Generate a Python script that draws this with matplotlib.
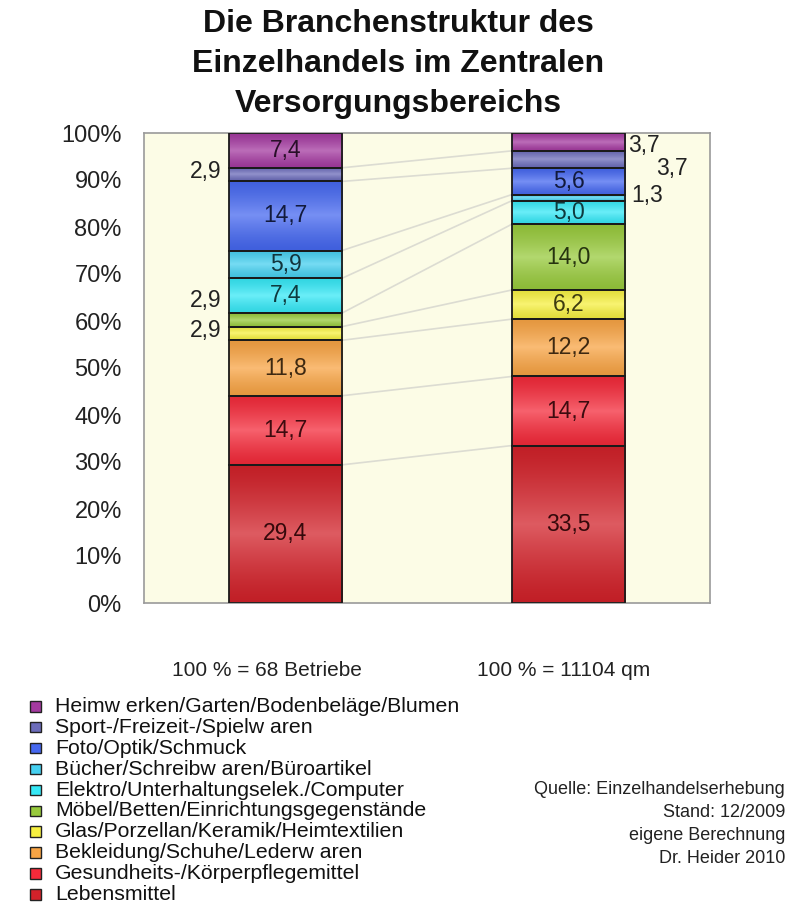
import numpy as np
import matplotlib
matplotlib.use("Agg")
import matplotlib.pyplot as plt
from matplotlib.patches import Rectangle
from matplotlib.colors import to_rgb

# Branches, stacked bottom to top
categories = [
    "Lebensmittel",
    "Gesundheits-/Körperpflegemittel",
    "Bekleidung/Schuhe/Lederw aren",
    "Glas/Porzellan/Keramik/Heimtextilien",
    "Möbel/Betten/Einrichtungsgegenstände",
    "Elektro/Unterhaltungselek./Computer",
    "Bücher/Schreibw aren/Büroartikel",
    "Foto/Optik/Schmuck",
    "Sport-/Freizeit-/Spielw aren",
    "Heimw erken/Garten/Bodenbeläge/Blumen",
]
betriebe = [29.4, 14.7, 11.8, 2.9, 2.9, 7.4, 5.9, 14.7, 2.9, 7.4]
flaeche = [33.5, 14.7, 12.2, 6.2, 14.0, 5.0, 1.3, 5.6, 3.7, 3.7]
columns = ["100 % = 68 Betriebe", "100 % = 11104 qm"]
yticks = [0, 10, 20, 30, 40, 50, 60, 70, 80, 90, 100]

colors = ["#d2222a", "#f42a3a", "#f8a444", "#f6f040", "#98ca3c",
          "#36e8f6", "#46d0f0", "#4668f0", "#6c6cba", "#a43aa0"]

plt.rcParams["font.family"] = ["Liberation Sans", "DejaVu Sans"]

fig = plt.figure(figsize=(7.95, 9.06), dpi=100)
W, H = 795, 906
ax = fig.add_axes([144 / W, 1 - 603 / H, (710 - 144) / W, (603 - 133) / H])
ax.set_facecolor("#fcfce6")
for s in ax.spines.values():
    s.set_color("#9a9a9a")
    s.set_linewidth(1.2)

ax.set_xlim(-0.5, 1.5)
ax.set_ylim(0, 100)
ax.set_xticks([])
ax.set_yticks(yticks)
ax.set_yticklabels([f"{t}%" for t in yticks], fontsize=17, color="#222222")
ax.tick_params(axis="y", length=0, pad=16)

width = 0.4
xpos = [0, 1]
series = [betriebe, flaeche]


def gradient_fill(patch, base):
    x0, y0 = patch.get_x(), patch.get_y()
    w, h = patch.get_width(), patch.get_height()
    base = np.array(to_rgb(base))
    t = np.linspace(0, 1, 64)
    hump = 1 - np.abs(2 * t - 1)
    light = base + (1 - base) * 0.26
    dark = base * 0.92
    col = dark[None, :] + (light - dark)[None, :] * hump[:, None] ** 1.3
    img = np.repeat(col[:, None, :], 4, axis=1)
    ax.imshow(img, extent=(x0, x0 + w, y0, y0 + h), origin="lower",
              aspect="auto", zorder=2, interpolation="bilinear")


bar_sets = []
for xi, vals in zip(xpos, series):
    bottoms = np.concatenate([[0], np.cumsum(vals)[:-1]])
    bars = ax.bar([xi] * len(vals), vals, width=width, bottom=bottoms,
                  facecolor="none", edgecolor="#1a1a1a", linewidth=1.3,
                  zorder=3)
    for p, c in zip(bars.patches, colors):
        gradient_fill(p, c)
    bar_sets.append(bars)

# Connecting lines between segment tops of both columns
left_tops = np.cumsum(betriebe)[:-1]
right_tops = np.cumsum(flaeche)[:-1]
for yl, yr in zip(left_tops, right_tops):
    ax.plot([xpos[0] + width / 2, xpos[1] - width / 2], [yl, yr],
            color="#dcdcd2", linewidth=1.2, zorder=1)

ax.set_aspect("auto")

# Value labels; thin segments get their label beside the column
outside_left = {3: 0.7, 4: 4.2, 8: 0.7}
outside_right = {9: (0.012, -0.7), 8: (0.11, -1.8), 6: (0.02, 0.35)}
for k, (xi, vals, bars) in enumerate(zip(xpos, series, bar_sets)):
    for i, (p, v) in enumerate(zip(bars.patches, vals)):
        yc = p.get_y() + p.get_height() / 2
        txt = f"{v:.1f}".replace(".", ",")
        if k == 0 and i in outside_left:
            ax.text(xi - width / 2 - 0.025, yc + outside_left[i], txt,
                    ha="right", va="center", fontsize=16.5, color="#222222",
                    zorder=4)
        elif k == 1 and i in outside_right:
            dx, dy = outside_right[i]
            ax.text(xi + width / 2 + dx, yc + dy, txt,
                    ha="left", va="center", fontsize=16.5, color="#222222",
                    zorder=4)
        else:
            tc = tuple(np.array(to_rgb(colors[i])) * 0.25)
            ax.text(xi, yc, txt, ha="center", va="center", fontsize=16.5,
                    color=tc, zorder=4)

# Title
fig.text(398 / W, 1 - 64 / H,
         "Die Branchenstruktur des\nEinzelhandels im Zentralen\nVersorgungsbereichs",
         ha="center", va="center", fontsize=23, fontweight="bold",
         color="#111111", linespacing=1.42)

# Column captions
for xc, lab in zip([267, 564], columns):
    fig.text(xc / W, 1 - 670 / H, lab, ha="center", va="center",
             fontsize=15, color="#222222")

# Legend (top entry is the top segment)
y0 = 706.5
step = 20.9
for j, i in enumerate(range(len(categories) - 1, -1, -1)):
    yc = y0 + j * step
    fig.patches.append(Rectangle((30 / W, 1 - (yc + 5) / H), 10.5 / W, 10.5 / H,
                                 transform=fig.transFigure,
                                 facecolor=colors[i], edgecolor="#222222",
                                 linewidth=1.0))
    fig.text(55 / W, 1 - yc / H, categories[i], ha="left", va="center",
             fontsize=15.3, color="#111111")

# Source note
notes = ["Quelle: Einzelhandelserhebung", "Stand: 12/2009",
         "eigene Berechnung", "Dr. Heider 2010"]
for j, line in enumerate(notes):
    fig.text(785 / W, 1 - (789 + j * 23.3) / H, line, ha="right",
             va="center", fontsize=13, color="#222222")

fig.savefig("out.png", dpi=100, facecolor="white")
